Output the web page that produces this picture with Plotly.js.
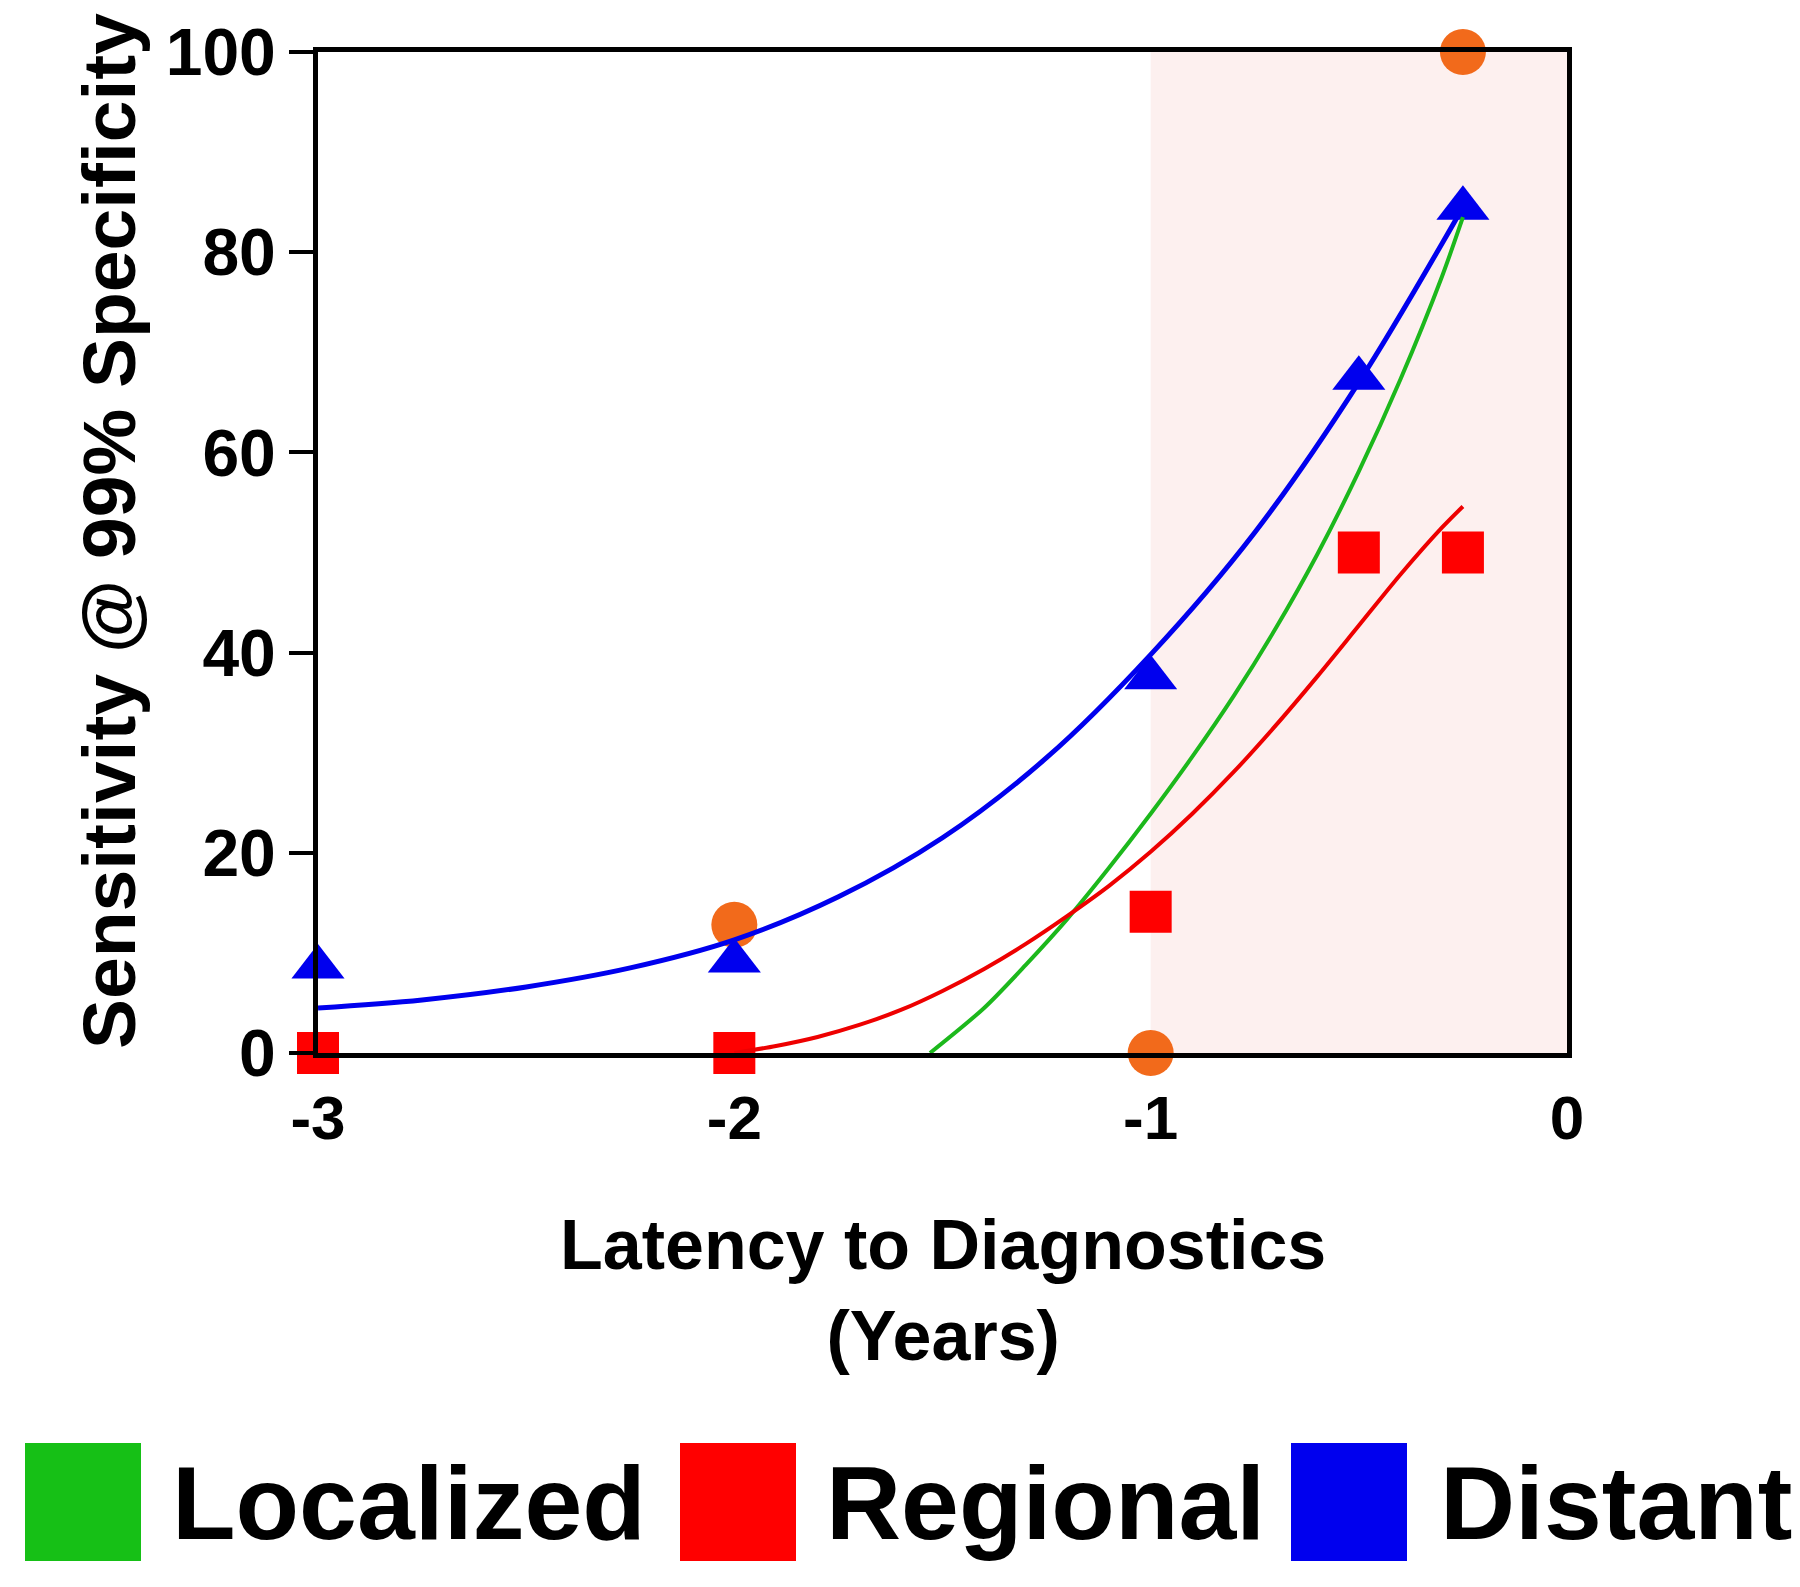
<!DOCTYPE html>
<html>
<head>
<meta charset="utf-8">
<script src="https://cdn.plot.ly/plotly-3.0.1.min.js"></script>
<style>
  body { margin: 0; background: #fff; }
  #plotArea { width: 1800px; height: 1587px; }
</style>
</head>
<body>
<div id="plotArea"></div>
<script>
// measured points
var distantX = [-3, -2, -1, -0.5, -0.25];
var distantY = [8.6, 9.2, 37.5, 67.4, 84.4];
var regionalX = [-3, -2, -1, -0.5, -0.25];
var regionalY = [0, 0, 14.1, 50, 50];
var localizedX = [-2, -1, -0.25];
var localizedY = [12.8, 0, 100];

// fitted curves
var distantFitX = [-3, -2.75, -2.5, -2.25, -2, -1.75, -1.5, -1.25, -1, -0.75, -0.5, -0.25];
var distantFitY = [4.5, 5.3, 6.6, 8.5, 11.3, 15.6, 21.5, 29.5, 39.8, 52.0, 67.0, 84.5];
var regionalFitX = [-2, -1.9, -1.8, -1.7, -1.6, -1.5, -1.4, -1.3, -1.2, -1.1, -1.0,
                    -0.9, -0.8, -0.7, -0.6, -0.5, -0.4, -0.3, -0.25];
var regionalFitY = [0, 0.7, 1.6, 2.8, 4.3, 6.2, 8.4, 10.9, 13.7, 16.7, 20.1,
                    23.9, 28.1, 32.7, 37.6, 42.7, 47.8, 52.5, 54.6];
var localizedFitX = [-1.53, -1.4, -1.3, -1.2, -1.1, -1.0, -0.9, -0.8, -0.7, -0.6, -0.5, -0.4, -0.3, -0.25];
var localizedFitY = [0, 4.5, 8.8, 13.4, 18.5, 23.9, 29.6, 35.7, 42.4, 49.8, 58.1, 67.3, 77.6, 83.5];

var xTicks = [-3, -2, -1, 0];
var xTickText = ["-3", "-2", "-1", "0"];
var yTicks = [0, 20, 40, 60, 80, 100];

var legendNames = ["Localized", "Regional", "Distant"];
var legendColors = ["#16c016", "#ff0000", "#0000ee"];

var FONT = "Liberation Sans, Arial, Helvetica, sans-serif";
var W = 1800, H = 1587, L = 318, R = 233, T = 52, B = 534;
var pw = W - L - R, ph = H - T - B;
function pxX(p) { return (p - L) / pw; }
function pxY(p) { return (H - B - p) / ph; }

var traces = [
  {x: localizedX, y: localizedY, mode: "markers", type: "scatter", cliponaxis: false,
   marker: {symbol: "circle", size: 46, color: "#f26a1b"}},
  {x: regionalX, y: regionalY, mode: "markers", type: "scatter", cliponaxis: false,
   marker: {symbol: "square", size: 42, color: "#ff0000"}},
  {x: distantX, y: distantY, mode: "markers", type: "scatter", cliponaxis: false,
   marker: {symbol: "triangle-up", size: 46, color: "#0000ee"}},
  {x: localizedFitX, y: localizedFitY, mode: "lines", type: "scatter",
   line: {color: "#1cb81c", width: 4, shape: "spline", smoothing: 0.8}},
  {x: regionalFitX, y: regionalFitY, mode: "lines", type: "scatter",
   line: {color: "#ee0000", width: 4, shape: "spline", smoothing: 0.8}},
  {x: distantFitX, y: distantFitY, mode: "lines", type: "scatter",
   line: {color: "#0000ee", width: 5, shape: "spline", smoothing: 1}}
];

// legend built by hand: big colour blocks with text
var boxLeft = [25, 680, 1291];
var textLeft = [170, 824, 1438];
var shapes = [
  {type: "rect", xref: "x", yref: "y", x0: -1, x1: 0, y0: 0, y1: 100,
   fillcolor: "#fdf0ef", line: {width: 0}, layer: "below"}
];
var annotations = [
  {xref: "paper", yref: "paper", x: pxX(109), y: pxY(531), textangle: -90,
   xanchor: "center", yanchor: "middle", showarrow: false,
   text: "Sensitivity @ 99% Specificity",
   font: {family: FONT, size: 75, color: "#000", weight: "bold"}},
  {xref: "paper", yref: "paper", x: 0.5, y: pxY(1290),
   xanchor: "center", yanchor: "middle", showarrow: false,
   text: "Latency to Diagnostics<br>(Years)",
   font: {family: FONT, size: 70, color: "#000", weight: "bold"}}
];
for (var i = 0; i < legendNames.length; i++) {
  shapes.push({type: "rect", xref: "paper", yref: "paper",
    x0: pxX(boxLeft[i]), x1: pxX(boxLeft[i] + 116),
    y0: pxY(1561), y1: pxY(1443),
    fillcolor: legendColors[i], line: {width: 0}});
  annotations.push({xref: "paper", yref: "paper", x: pxX(textLeft[i]), y: pxY(1503),
    xanchor: "left", yanchor: "middle", showarrow: false, text: legendNames[i],
    font: {family: FONT, size: 104, color: "#000", weight: "bold"}});
}

var layout = {
  width: W, height: H,
  margin: {l: L, r: R, t: T, b: B},
  showlegend: false,
  paper_bgcolor: "#fff", plot_bgcolor: "#fff",
  xaxis: {
    range: [-3, 0], tickvals: xTicks, ticktext: xTickText, ticks: "", ticklabelstandoff: 7,
    showgrid: false, zeroline: false,
    showline: true, linecolor: "#000", linewidth: 5, mirror: true,
    tickfont: {family: FONT, size: 62, color: "#000", weight: "bold"}
  },
  yaxis: {
    range: [0, 100], tickvals: yTicks, ticks: "outside", ticklen: 24, tickwidth: 4,
    tickcolor: "#000", showgrid: false, zeroline: false,
    showline: true, linecolor: "#000", linewidth: 5, mirror: true,
    tickfont: {family: FONT, size: 66, color: "#000", weight: "bold"}
  },
  shapes: shapes,
  annotations: annotations
};

Plotly.newPlot("plotArea", traces, layout, {displayModeBar: false});
</script>
</body>
</html>
